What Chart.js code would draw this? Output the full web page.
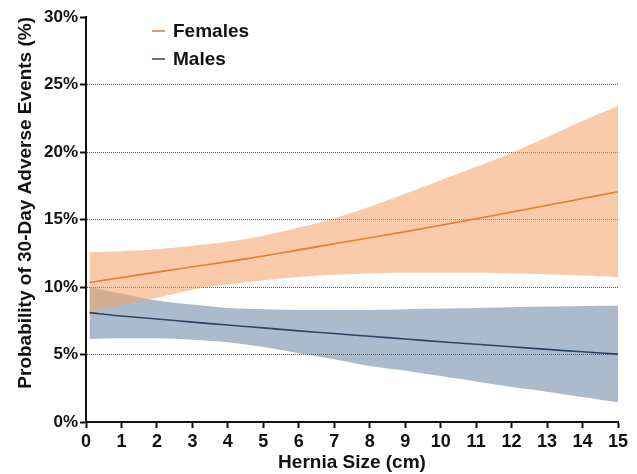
<!DOCTYPE html>
<html>
<head>
<meta charset="utf-8">
<script src="https://cdn.jsdelivr.net/npm/chart.js@4.4.1/dist/chart.umd.min.js"></script>
<style>
  html, body { margin: 0; padding: 0; background: #fff; }
  #wrap { width: 637px; height: 474px; position: relative; }
</style>
</head>
<body>
<div id="wrap"><canvas id="chartHernia"></canvas></div>
<script>
// Hernia size (cm)
const sizes = [0.1, 1, 2, 3, 4, 5, 6, 7, 8, 9, 10, 11, 12, 13, 14, 15];

// Females - predicted probability and 95% band (%)
const femalesProb  = [10.33, 10.7, 11.1, 11.5, 11.88, 12.3, 12.75, 13.2, 13.65, 14.1, 14.58, 15.05, 15.55, 16.05, 16.55, 17.06];
const femalesUpper = [12.57, 12.65, 12.8, 13.05, 13.35, 13.8, 14.4, 15.1, 15.95, 16.9, 17.9, 18.9, 19.95, 21.1, 22.3, 23.4];
const femalesLower = [8.17, 8.65, 9.2, 9.8, 10.2, 10.5, 10.75, 10.9, 11.0, 11.05, 11.05, 11.05, 11.0, 10.95, 10.85, 10.75];

// Males - predicted probability and 95% band (%)
const malesProb  = [8.1, 7.85, 7.63, 7.4, 7.18, 6.97, 6.75, 6.55, 6.35, 6.15, 5.95, 5.76, 5.57, 5.38, 5.2, 5.03];
const malesUpper = [10.0, 9.5, 9.0, 8.7, 8.45, 8.35, 8.3, 8.3, 8.3, 8.35, 8.4, 8.45, 8.5, 8.55, 8.6, 8.62];
const malesLower = [6.15, 6.2, 6.2, 6.1, 5.9, 5.55, 5.1, 4.65, 4.15, 3.8, 3.4, 3.0, 2.6, 2.25, 1.85, 1.46];

// Legend
const seriesNames = ['Females', 'Males'];

const font = '"Liberation Sans", Arial, sans-serif';
const pts = arr => sizes.map((x, i) => ({ x: x, y: arr[i] }));

const bandEdge = (data, bg, fill) => ({
  data: pts(data),
  borderWidth: 0,
  borderColor: 'rgba(0,0,0,0)',
  backgroundColor: bg,
  pointRadius: 0,
  fill: fill,
  tension: 0.35
});

// Legend drawn inside the plot, top left
const legendInside = {
  id: 'legendInside',
  afterDraw(chart) {
    const c = chart.ctx;
    const colors = ['#ee9a5e', '#5d738c'];
    c.save();
    c.font = 'bold 19px ' + font;
    c.textBaseline = 'middle';
    c.fillStyle = '#111';
    seriesNames.forEach((name, i) => {
      const y = 31 + i * 28;
      c.strokeStyle = colors[i];
      c.lineWidth = 2;
      c.beginPath();
      c.moveTo(152, y);
      c.lineTo(165, y);
      c.stroke();
      c.fillText(name, 173, y + 1);
    });
    c.restore();
  }
};

const ctx = document.getElementById('chartHernia').getContext('2d');

const chartHernia = new Chart(ctx, {
  type: 'line',
  data: {
    datasets: [
      {
        label: seriesNames[0],
        data: pts(femalesProb),
        borderColor: '#ec7a2c',
        borderWidth: 1.6,
        pointRadius: 0,
        fill: false,
        tension: 0.3
      },
      {
        label: seriesNames[1],
        data: pts(malesProb),
        borderColor: '#2b4564',
        borderWidth: 1.6,
        pointRadius: 0,
        fill: false,
        tension: 0.3
      },
      bandEdge(femalesUpper, 'rgba(246,160,100,0.55)', '+1'),
      bandEdge(femalesLower, 'rgba(0,0,0,0)', false),
      bandEdge(malesUpper, 'rgba(70,105,140,0.45)', '+1'),
      bandEdge(malesLower, 'rgba(0,0,0,0)', false)
    ]
  },
  options: {
    responsive: true,
    maintainAspectRatio: false,
    animation: false,
    layout: { padding: { top: 17, right: 19, left: 0, bottom: 0 } },
    plugins: {
      legend: { display: false },
      tooltip: { enabled: false },
      filler: { drawTime: 'beforeDatasetsDraw' }
    },
    scales: {
      x: {
        type: 'linear',
        min: 0,
        max: 15,
        afterFit: s => { s.height = 52; },
        ticks: {
          stepSize: 1,
          color: '#111',
          padding: 3,
          font: { family: font, size: 18, weight: 'bold' }
        },
        grid: {
          drawOnChartArea: false,
          tickLength: 6,
          tickColor: '#111',
          tickWidth: 2
        },
        border: { color: '#111', width: 2 },
        title: {
          display: true,
          text: 'Hernia Size (cm)',
          color: '#111',
          padding: { top: 0, bottom: 0 },
          font: { family: font, size: 19, weight: 'bold' }
        }
      },
      y: {
        min: 0,
        max: 30,
        afterFit: s => { s.width = 86; },
        ticks: {
          stepSize: 5,
          color: '#111',
          padding: 2,
          callback: v => v + '%',
          font: { family: font, size: 17, weight: 'bold' }
        },
        grid: {
          color: c => (c.tick && (c.tick.value === 0 || c.tick.value === 30)) ? 'rgba(0,0,0,0)' : '#555',
          lineWidth: 1,
          tickLength: 6,
          tickColor: '#111',
          tickWidth: 2
        },
        border: { color: '#111', width: 2, dash: [1, 1] },
        title: {
          display: true,
          text: 'Probability of 30-Day Adverse Events (%)',
          color: '#111',
          align: 'end',
          padding: { top: 14, bottom: 0 },
          font: { family: font, size: 19, weight: 'bold' }
        }
      }
    }
  },
  plugins: [legendInside]
});
</script>
</body>
</html>
